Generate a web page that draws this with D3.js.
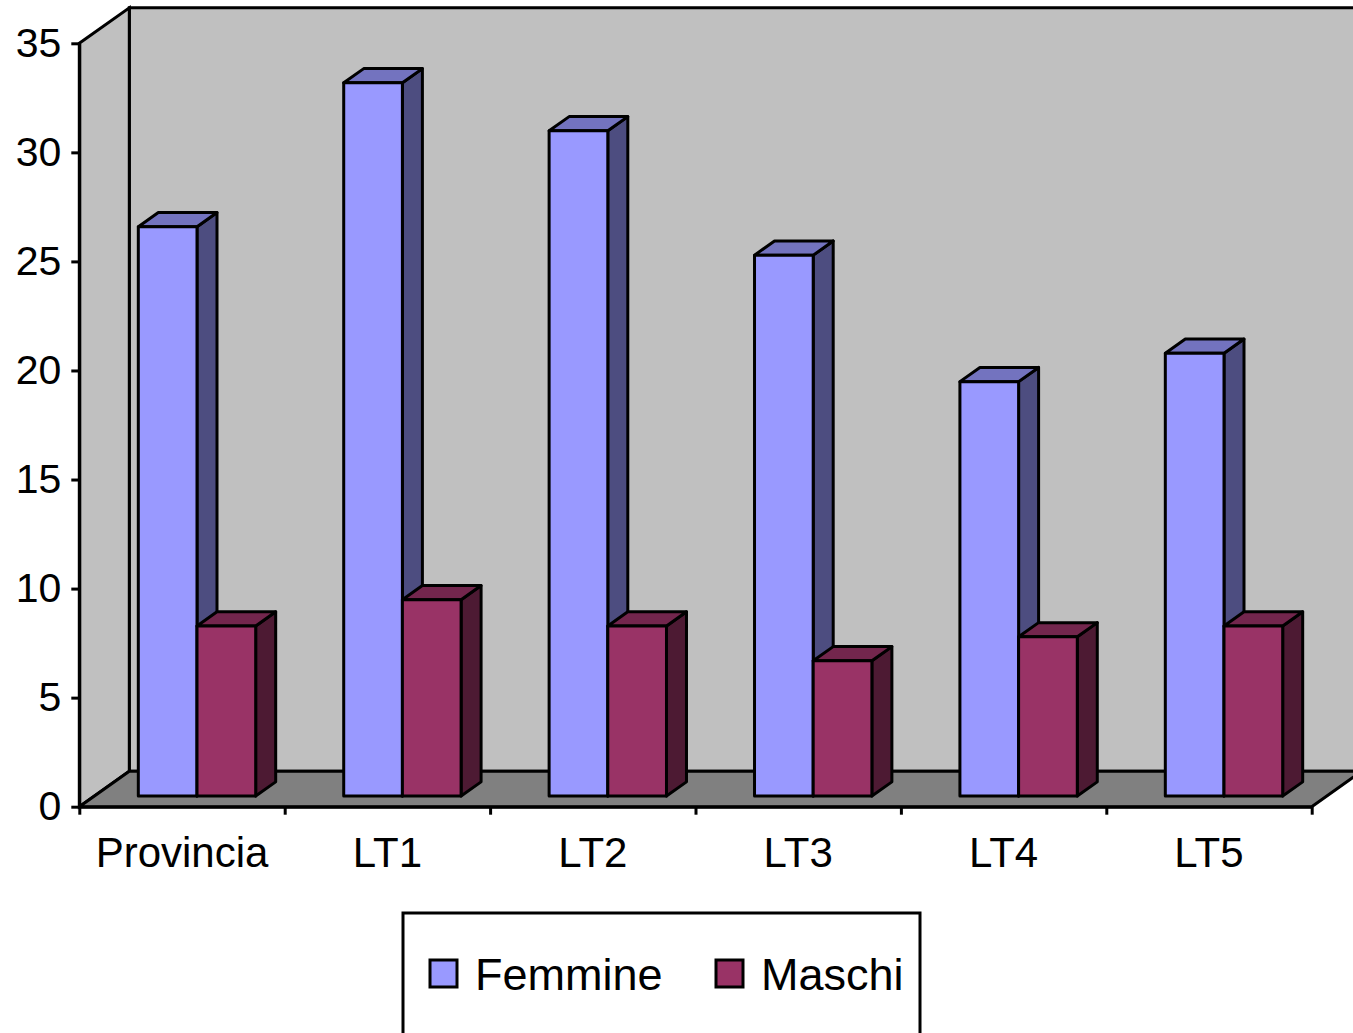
<!DOCTYPE html>
<html>
<head>
<meta charset="utf-8">
<script src="https://cdn.jsdelivr.net/npm/d3@7"></script>
<style>
  body { margin: 0; background: #fff; }
  text { font-family: "Liberation Sans", Arial, sans-serif; fill: #000; }
</style>
</head>
<body>
<div id="chart"></div>
<script>
let categories = ['Provincia', 'LT1', 'LT2', 'LT3', 'LT4', 'LT5']
let seriesNames = ['Femmine', 'Maschi']
let femmine = [26.1, 32.7, 30.5, 24.8, 19.0, 20.3]
let maschi = [7.8, 9.0, 7.8, 6.2, 7.3, 7.8]
let yTicks = [0, 5, 10, 15, 20, 25, 30, 35]

let colors = {
  Femmine: { front: '#9999FF', top: '#7373BF', side: '#4D4D80' },
  Maschi: { front: '#993366', top: '#73264D', side: '#4D1A33' }
}

let width = 1353, height = 1033
let plot = { left: 79.3, right: 1311.7, bottom: 806.7, top: 43.3 }
let depth = { dx: 50, dy: -35.5 }     // full floor depth offset
let barDepth = [0.3, 0.7]             // bars sit in the middle of the floor

let svg = d3.select('#chart').append('svg')
  .attr('width', width)
  .attr('height', height)

let yScale = d3.scaleLinear().domain([0, 35]).range([plot.bottom, plot.top])
let xScale = d3.scaleBand().domain(categories).range([plot.left, plot.right])
let sScale = d3.scaleBand().domain(seriesNames).range([0, xScale.bandwidth()])
  .paddingInner(0).paddingOuter(0.75)

// project a front-plane point to a given depth fraction
function proj(x, y, d) {
  return [x + depth.dx * d, y + depth.dy * d]
}
function poly(points) {
  return points.map(p => p.join(',')).join(' ')
}

let stroke = '#000', sw = 3

// Walls
let y0 = yScale(0), yMax = yScale(35)
svg.append('polygon') // back wall
  .attr('points', poly([proj(plot.left, yMax, 1), proj(plot.right + 100, yMax, 1), proj(plot.right + 100, y0, 1), proj(plot.left, y0, 1)]))
  .attr('fill', '#C0C0C0').attr('stroke', stroke).attr('stroke-width', sw)
svg.append('polygon') // side wall
  .attr('points', poly([[plot.left, yMax], proj(plot.left, yMax, 1), proj(plot.left, y0, 1), [plot.left, y0]]))
  .attr('fill', '#C0C0C0').attr('stroke', stroke).attr('stroke-width', sw)
svg.append('polygon') // floor
  .attr('points', poly([[plot.left, y0], [plot.right, y0], proj(plot.right, y0, 1), proj(plot.left, y0, 1)]))
  .attr('fill', '#808080').attr('stroke', stroke).attr('stroke-width', sw).attr('stroke-linejoin', 'round')

// Bars
let seriesData = { Femmine: femmine, Maschi: maschi }
categories.forEach((cat, i) => {
  seriesNames.forEach(name => {
    let v = seriesData[name][i]
    let xl = xScale(cat) + sScale(name)
    let xr = xl + sScale.bandwidth()
    let yt = yScale(v), yb = yScale(0)
    let c = colors[name]
    let g = svg.append('g')
      .attr('stroke', stroke).attr('stroke-width', sw).attr('stroke-linejoin', 'round')
    g.append('polygon') // side
      .attr('points', poly([proj(xr, yt, barDepth[0]), proj(xr, yt, barDepth[1]), proj(xr, yb, barDepth[1]), proj(xr, yb, barDepth[0])]))
      .attr('fill', c.side)
    g.append('polygon') // top
      .attr('points', poly([proj(xl, yt, barDepth[0]), proj(xl, yt, barDepth[1]), proj(xr, yt, barDepth[1]), proj(xr, yt, barDepth[0])]))
      .attr('fill', c.top)
    g.append('polygon') // front
      .attr('points', poly([proj(xl, yt, barDepth[0]), proj(xr, yt, barDepth[0]), proj(xr, yb, barDepth[0]), proj(xl, yb, barDepth[0])]))
      .attr('fill', c.front)
  })
})

// Y axis
let yAxis = svg.append('g')
  .attr('transform', `translate(${plot.left}, 0)`)
  .call(d3.axisLeft(yScale).tickValues(yTicks).tickSize(8).tickSizeOuter(0).tickPadding(10))
yAxis.select('.domain').attr('stroke', stroke).attr('stroke-width', sw)
yAxis.selectAll('.tick line').attr('stroke', stroke).attr('stroke-width', sw)
yAxis.selectAll('.tick text')
  .style('font-family', '"Liberation Sans", Arial, sans-serif')
  .style('font-size', '41px').attr('fill', '#000')

// X axis: ticks at category boundaries
let xEdges = d3.scaleLinear().domain([0, categories.length]).range([plot.left, plot.right])
let xAxis = svg.append('g')
  .attr('transform', `translate(0, ${plot.bottom})`)
  .call(d3.axisBottom(xEdges).ticks(categories.length).tickSize(8).tickSizeOuter(0).tickFormat(''))
xAxis.select('.domain').attr('stroke', stroke).attr('stroke-width', sw)
xAxis.selectAll('.tick line').attr('stroke', stroke).attr('stroke-width', sw)

svg.append('g').selectAll('text')
  .data(categories)
  .enter().append('text')
    .attr('x', d => xScale(d) + xScale.bandwidth() / 2)
    .attr('y', 867)
    .attr('text-anchor', 'middle')
    .style('font-size', '42px')
    .text(d => d)

// Legend
let legend = svg.append('g')
legend.append('rect')
  .attr('x', 403).attr('y', 913).attr('width', 517).attr('height', 140)
  .attr('fill', '#fff').attr('stroke', stroke).attr('stroke-width', sw)
let legendX = [430, 716]
seriesNames.forEach((name, i) => {
  legend.append('rect')
    .attr('x', legendX[i]).attr('y', 960).attr('width', 27).attr('height', 27)
    .attr('fill', colors[name].front).attr('stroke', stroke).attr('stroke-width', sw)
  legend.append('text')
    .attr('x', legendX[i] + 45).attr('y', 990)
    .style('font-size', '45px')
    .text(name)
})
</script>
</body>
</html>
